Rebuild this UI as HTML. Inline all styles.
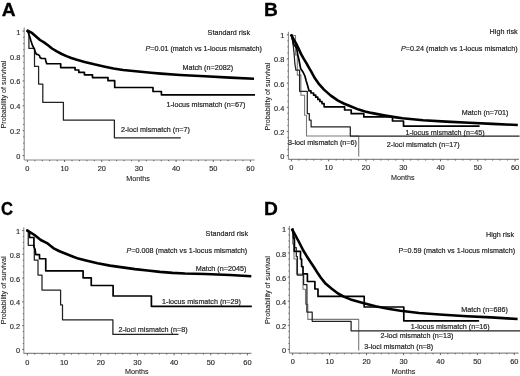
<!DOCTYPE html>
<html><head><meta charset="utf-8"><style>
html,body{margin:0;padding:0;background:#fff;}
svg{display:block;filter:blur(0.3px);}
.t{font-family:"Liberation Sans", sans-serif;font-size:7.2px;fill:#222;stroke:#222;stroke-width:0.1px;}
.ann{font-family:"Liberation Sans", sans-serif;font-size:7.8px;fill:#222;stroke:#222;stroke-width:0.2px;}
.tl{font-family:"Liberation Sans", sans-serif;font-size:7.4px;letter-spacing:0.0px;fill:#2a2a2a;stroke:#2a2a2a;stroke-width:0.15px;}
.big{font-family:"Liberation Sans", sans-serif;font-size:19.2px;font-weight:bold;fill:#000;stroke:#000;stroke-width:0.3px;}
</style></head><body>
<svg width="520" height="376" viewBox="0 0 520 376">
<rect width="520" height="376" fill="#fff"/>
<line x1="24.2" y1="27.6" x2="24.2" y2="160" stroke="#8a8a8a" stroke-width="1.1"/>
<line x1="24.2" y1="160" x2="254.6" y2="160" stroke="#8a8a8a" stroke-width="1.1"/>
<path d="M22.6 155.6H24.2M23.2 149.38H24.2M23.2 143.15H24.2M23.2 136.92H24.2M22.6 130.7H24.2M23.2 124.47H24.2M23.2 118.25H24.2M23.2 112.02H24.2M22.6 105.8H24.2M23.2 99.57H24.2M23.2 93.35H24.2M23.2 87.12H24.2M22.6 80.9H24.2M23.2 74.67H24.2M23.2 68.45H24.2M23.2 62.22H24.2M22.6 56H24.2M23.2 49.77H24.2M23.2 43.55H24.2M23.2 37.32H24.2M22.6 31.1H24.2M27.4 160V162M34.83 160V161.2M42.27 160V161.2M49.7 160V161.2M57.14 160V161.2M64.57 160V162M72 160V161.2M79.44 160V161.2M86.87 160V161.2M94.31 160V161.2M101.74 160V162M109.17 160V161.2M116.61 160V161.2M124.04 160V161.2M131.48 160V161.2M138.91 160V162M146.34 160V161.2M153.78 160V161.2M161.21 160V161.2M168.65 160V161.2M176.08 160V162M183.51 160V161.2M190.95 160V161.2M198.38 160V161.2M205.82 160V161.2M213.25 160V162M220.68 160V161.2M228.12 160V161.2M235.55 160V161.2M242.99 160V161.2M250.42 160V162" stroke="#555" stroke-width="0.9" fill="none"/>
<text transform="translate(20.4,159.1) scale(1.0,1)" text-anchor="end" class="tl">0</text>
<text transform="translate(20.4,134.2) scale(1.0,1)" text-anchor="end" class="tl">0.2</text>
<text transform="translate(20.4,109.3) scale(1.0,1)" text-anchor="end" class="tl">0.4</text>
<text transform="translate(20.4,84.4) scale(1.0,1)" text-anchor="end" class="tl">0.6</text>
<text transform="translate(20.4,59.5) scale(1.0,1)" text-anchor="end" class="tl">0.8</text>
<text transform="translate(20.4,34.6) scale(1.0,1)" text-anchor="end" class="tl">1</text>
<text transform="translate(27.4,170.5) scale(1.0,1)" text-anchor="middle" class="tl">0</text>
<text transform="translate(64.57,170.5) scale(1.0,1)" text-anchor="middle" class="tl">10</text>
<text transform="translate(101.74,170.5) scale(1.0,1)" text-anchor="middle" class="tl">20</text>
<text transform="translate(138.91,170.5) scale(1.0,1)" text-anchor="middle" class="tl">30</text>
<text transform="translate(176.08,170.5) scale(1.0,1)" text-anchor="middle" class="tl">40</text>
<text transform="translate(213.25,170.5) scale(1.0,1)" text-anchor="middle" class="tl">50</text>
<text transform="translate(250.42,170.5) scale(1.0,1)" text-anchor="middle" class="tl">60</text>
<text x="1.8" y="16.1" text-anchor="start" class="big" >A</text>
<polyline points="26.8,30.4 28.9,30.4 28.9,48.4 34.5,48.4 34.5,66.4 38.6,66.4 38.6,84 42.8,84 42.8,102.4 63.4,102.4 63.4,120.2 114.4,120.2 114.4,137.8 180.8,137.8" fill="none" stroke="#222" stroke-width="1.25" stroke-linejoin="round" stroke-linecap="butt" />
<polyline points="26.8,30.4 28,32 29.5,36 31,41 32.3,45 34.25,48.8 35.2,51.7 36.2,54.1 38.1,54.6 39.5,55.6 40,57.5 41.5,58.5 45.3,58.5 45.8,60.9 46.75,63.75 60.7,63.75 60.7,67.6 75.1,67.6 75.1,70 78.8,70 78.8,72.3 84.4,72.3 84.4,74.8 92.5,74.8 92.5,77.6 108,77.6 108,80.7 114.7,80.7 114.7,87.5 153,87.5 153,91.5 161.4,91.5 161.4,94.8 255,94.8" fill="none" stroke="#000" stroke-width="1.7" stroke-linejoin="round" stroke-linecap="butt" />
<polyline points="26.6,30.3 29,31.5 32,32.9 36,36.4 40,40 44,42.4 48,45.3 52,48.5 56.8,51.3 61.7,54 66.5,56.1 71.3,58 76,59.6 84.6,61.9 94.2,64.3 103.8,66.4 113.5,68.5 123.1,70 130.7,70.8 140.8,71.8 150.9,72.7 161,73.6 180,75 205,76.3 230,77.6 254,78.7" fill="none" stroke="#000" stroke-width="2.6" stroke-linejoin="round" stroke-linecap="butt" />
<text transform="translate(207.6,34.5) scale(0.9231,1)" text-anchor="start" class="ann" >Standard risk</text>
<text transform="translate(145.4,50.5) scale(0.9231,1)" text-anchor="start" class="ann" ><tspan font-style="italic">P</tspan>=0.01 (match vs 1-locus mismatch)</text>
<text transform="translate(182.5,70.4) scale(0.9231,1)" text-anchor="start" class="ann" >Match (n=2082)</text>
<text transform="translate(166.4,106.6) scale(0.9231,1)" text-anchor="start" class="ann" >1-locus mismatch (n=67)</text>
<text transform="translate(120.9,132.3) scale(0.9231,1)" text-anchor="start" class="ann" >2-loci mismatch (n=7)</text>
<text x="138" y="180.5" text-anchor="middle" class="t" >Months</text>
<text transform="translate(5.7,94.5) rotate(-90)" text-anchor="middle" class="t" fill="#222">Probability of survival</text>
<line x1="288.4" y1="31.8" x2="288.4" y2="159.4" stroke="#8a8a8a" stroke-width="1.1"/>
<line x1="288.4" y1="159.4" x2="519" y2="159.4" stroke="#8a8a8a" stroke-width="1.1"/>
<path d="M286.8 155.6H288.4M287.4 149.56H288.4M287.4 143.52H288.4M287.4 137.48H288.4M286.8 131.44H288.4M287.4 125.4H288.4M287.4 119.36H288.4M287.4 113.32H288.4M286.8 107.28H288.4M287.4 101.24H288.4M287.4 95.2H288.4M287.4 89.16H288.4M286.8 83.12H288.4M287.4 77.08H288.4M287.4 71.04H288.4M287.4 65H288.4M286.8 58.96H288.4M287.4 52.92H288.4M287.4 46.88H288.4M287.4 40.84H288.4M286.8 34.8H288.4M291.4 159.4V161.4M298.86 159.4V160.6M306.31 159.4V160.6M313.77 159.4V160.6M321.22 159.4V160.6M328.68 159.4V161.4M336.14 159.4V160.6M343.59 159.4V160.6M351.05 159.4V160.6M358.5 159.4V160.6M365.96 159.4V161.4M373.42 159.4V160.6M380.87 159.4V160.6M388.33 159.4V160.6M395.78 159.4V160.6M403.24 159.4V161.4M410.7 159.4V160.6M418.15 159.4V160.6M425.61 159.4V160.6M433.06 159.4V160.6M440.52 159.4V161.4M447.98 159.4V160.6M455.43 159.4V160.6M462.89 159.4V160.6M470.34 159.4V160.6M477.8 159.4V161.4M485.26 159.4V160.6M492.71 159.4V160.6M500.17 159.4V160.6M507.62 159.4V160.6M515.08 159.4V161.4" stroke="#555" stroke-width="0.9" fill="none"/>
<text transform="translate(284.3,159.1) scale(1.0,1)" text-anchor="end" class="tl">0</text>
<text transform="translate(284.3,134.94) scale(1.0,1)" text-anchor="end" class="tl">0.2</text>
<text transform="translate(284.3,110.78) scale(1.0,1)" text-anchor="end" class="tl">0.4</text>
<text transform="translate(284.3,86.62) scale(1.0,1)" text-anchor="end" class="tl">0.6</text>
<text transform="translate(284.3,62.46) scale(1.0,1)" text-anchor="end" class="tl">0.8</text>
<text transform="translate(284.3,38.3) scale(1.0,1)" text-anchor="end" class="tl">1</text>
<text transform="translate(291.4,170.4) scale(1.0,1)" text-anchor="middle" class="tl">0</text>
<text transform="translate(328.68,170.4) scale(1.0,1)" text-anchor="middle" class="tl">10</text>
<text transform="translate(365.96,170.4) scale(1.0,1)" text-anchor="middle" class="tl">20</text>
<text transform="translate(403.24,170.4) scale(1.0,1)" text-anchor="middle" class="tl">30</text>
<text transform="translate(440.52,170.4) scale(1.0,1)" text-anchor="middle" class="tl">40</text>
<text transform="translate(477.8,170.4) scale(1.0,1)" text-anchor="middle" class="tl">50</text>
<text transform="translate(515.08,170.4) scale(1.0,1)" text-anchor="middle" class="tl">60</text>
<text x="264.1" y="16.1" text-anchor="start" class="big" >B</text>
<polyline points="291.2,34.6 293.5,35.2 295.5,35.6 295.5,54.9 297.3,54.9 297.3,75.1 300.9,75.1 300.9,95.2 304.6,95.2 304.6,115.3 306.5,115.3 306.5,136 358.7,136 358.7,156.4" fill="none" stroke="#7a7a7a" stroke-width="1.1" stroke-linejoin="round" stroke-linecap="butt" />
<polyline points="291.2,34.6 292.5,40 293.5,48 294.3,56 294.8,63.2 295.3,66.4 295.9,70.1 299.6,70.1 299.6,91.3 307.3,91.3 307.3,113.6 309.3,113.6 309.3,120 311.1,120 311.1,126.9 350.3,126.9 350.3,136 519.5,136" fill="none" stroke="#222" stroke-width="1.25" stroke-linejoin="round" stroke-linecap="butt" />
<polyline points="291.2,34.6 293.8,44.5 296.7,48.3 297.6,54.1 298.6,58 300.6,68.5 302.8,71.7 304.9,76 306,80.2 307.6,85.5 309.1,90.9 309.1,90.9 311,90.9 311,93 313.6,93 313.6,95.1 315.7,95.1 315.7,97.2 317.8,97.2 317.8,99.4 319.9,99.4 319.9,101.5 322,101.5 322,103.6 324.1,103.6 324.1,106.8 344.6,106.8 344.6,110 351.2,110 351.2,113.7 363.8,113.7 363.8,116.9 392.5,116.9 392.5,121 403.5,121 403.5,126.1 479.6,126.1" fill="none" stroke="#000" stroke-width="1.7" stroke-linejoin="round" stroke-linecap="butt" />
<polyline points="290.9,34.4 293.8,39.7 296.6,44.5 298.9,49.3 301.1,54.1 303.8,58.9 306.7,63.7 308.9,67.6 311.4,71.8 314.4,77.5 318.6,83.6 324,89.6 330.5,95.4 338,100.6 344.25,103.75 350.5,106.3 358.75,109.6 365,111.4 371.25,112.9 377.5,114.1 383.75,115.3 390,116.4 396.25,117.4 402.5,118.3 423.1,120.3 446.2,121.6 469.3,122.7 492.4,123.9 517.8,125" fill="none" stroke="#000" stroke-width="2.6" stroke-linejoin="round" stroke-linecap="butt" />
<text transform="translate(489.6,34.3) scale(0.9231,1)" text-anchor="start" class="ann" >High risk</text>
<text transform="translate(401,51.3) scale(0.9231,1)" text-anchor="start" class="ann" ><tspan font-style="italic">P</tspan>=0.24 (match vs 1-locus mismatch)</text>
<text transform="translate(461.8,115.3) scale(0.9231,1)" text-anchor="start" class="ann" >Match (n=701)</text>
<text transform="translate(405.6,135.2) scale(0.9231,1)" text-anchor="start" class="ann" >1-locus mismatch (n=45)</text>
<text transform="translate(386.8,147.3) scale(0.9231,1)" text-anchor="start" class="ann" >2-loci mismatch (n=17)</text>
<text transform="translate(288,145.2) scale(0.9231,1)" text-anchor="start" class="ann" >3-loci mismatch (n=6)</text>
<text x="402.7" y="180.2" text-anchor="middle" class="t" >Months</text>
<text transform="translate(269.8,96.6) rotate(-90)" text-anchor="middle" class="t" fill="#222">Probability of survival</text>
<line x1="23.8" y1="227.3" x2="23.8" y2="353.4" stroke="#8a8a8a" stroke-width="1.1"/>
<line x1="23.8" y1="353.4" x2="251.4" y2="353.4" stroke="#8a8a8a" stroke-width="1.1"/>
<path d="M22.2 349.4H23.8M22.8 343.45H23.8M22.8 337.51H23.8M22.8 331.56H23.8M22.2 325.62H23.8M22.8 319.67H23.8M22.8 313.73H23.8M22.8 307.78H23.8M22.2 301.84H23.8M22.8 295.89H23.8M22.8 289.95H23.8M22.8 284H23.8M22.2 278.06H23.8M22.8 272.12H23.8M22.8 266.17H23.8M22.8 260.23H23.8M22.2 254.28H23.8M22.8 248.33H23.8M22.8 242.39H23.8M22.8 236.44H23.8M22.2 230.5H23.8M27.4 353.4V355.4M34.73 353.4V354.6M42.07 353.4V354.6M49.4 353.4V354.6M56.74 353.4V354.6M64.07 353.4V355.4M71.4 353.4V354.6M78.74 353.4V354.6M86.07 353.4V354.6M93.41 353.4V354.6M100.74 353.4V355.4M108.07 353.4V354.6M115.41 353.4V354.6M122.74 353.4V354.6M130.08 353.4V354.6M137.41 353.4V355.4M144.74 353.4V354.6M152.08 353.4V354.6M159.41 353.4V354.6M166.75 353.4V354.6M174.08 353.4V355.4M181.41 353.4V354.6M188.75 353.4V354.6M196.08 353.4V354.6M203.42 353.4V354.6M210.75 353.4V355.4M218.08 353.4V354.6M225.42 353.4V354.6M232.75 353.4V354.6M240.09 353.4V354.6M247.42 353.4V355.4" stroke="#555" stroke-width="0.9" fill="none"/>
<text transform="translate(20,352.9) scale(1.0,1)" text-anchor="end" class="tl">0</text>
<text transform="translate(20,329.12) scale(1.0,1)" text-anchor="end" class="tl">0.2</text>
<text transform="translate(20,305.34) scale(1.0,1)" text-anchor="end" class="tl">0.4</text>
<text transform="translate(20,281.56) scale(1.0,1)" text-anchor="end" class="tl">0.6</text>
<text transform="translate(20,257.78) scale(1.0,1)" text-anchor="end" class="tl">0.8</text>
<text transform="translate(20,234) scale(1.0,1)" text-anchor="end" class="tl">1</text>
<text transform="translate(27.4,364.6) scale(1.0,1)" text-anchor="middle" class="tl">0</text>
<text transform="translate(64.07,364.6) scale(1.0,1)" text-anchor="middle" class="tl">10</text>
<text transform="translate(100.74,364.6) scale(1.0,1)" text-anchor="middle" class="tl">20</text>
<text transform="translate(137.41,364.6) scale(1.0,1)" text-anchor="middle" class="tl">30</text>
<text transform="translate(174.08,364.6) scale(1.0,1)" text-anchor="middle" class="tl">40</text>
<text transform="translate(210.75,364.6) scale(1.0,1)" text-anchor="middle" class="tl">50</text>
<text transform="translate(247.42,364.6) scale(1.0,1)" text-anchor="middle" class="tl">60</text>
<text x="0" y="214.8" class="big" transform="translate(0.95,0) scale(0.87,1)">C</text>
<polyline points="26.4,230.2 28.25,230.2 28.25,245.3 34.3,245.3 34.3,260.2 38,260.2 38,275.1 42,275.1 42,290 60.6,290 60.6,304.9 62.5,304.9 62.5,319.8 112.9,319.8 112.9,334.4 178.5,334.4" fill="none" stroke="#222" stroke-width="1.25" stroke-linejoin="round" stroke-linecap="butt" />
<polyline points="26.4,230.2 29.5,231.9 29.5,237.5 33.9,237.5 33.9,246.9 35.1,249.4 35.75,254.6 39.5,254.6 39.5,258.75 45.75,258.75 45.75,270.8 83.1,270.8 83.1,277.8 91.25,277.8 91.25,285.5 113.1,285.5 113.1,296 151.4,296 151.4,306.3 251.8,306.3" fill="none" stroke="#000" stroke-width="1.7" stroke-linejoin="round" stroke-linecap="butt" />
<polyline points="26.4,230 29.5,231.9 34.5,235 40.75,240 47,243.1 53.25,248.1 59.5,251.25 65.75,253.75 72,256.25 78.25,258.6 85,260.3 97.5,263.25 110,265.6 122.5,267.4 135,269.1 147.5,270.5 160,271.9 172.5,272.9 185,273.5 205,274 230,275 251.3,276.2" fill="none" stroke="#000" stroke-width="2.6" stroke-linejoin="round" stroke-linecap="butt" />
<text transform="translate(205.6,235.8) scale(0.9231,1)" text-anchor="start" class="ann" >Standard risk</text>
<text transform="translate(126.6,252.7) scale(0.9231,1)" text-anchor="start" class="ann" ><tspan font-style="italic">P</tspan>=0.008 (match vs 1-locus mismatch)</text>
<text transform="translate(195.7,270.5) scale(0.9231,1)" text-anchor="start" class="ann" >Match (n=2045)</text>
<text transform="translate(162,303.6) scale(0.9231,1)" text-anchor="start" class="ann" >1-locus mismatch (n=29)</text>
<text transform="translate(118.6,332) scale(0.9231,1)" text-anchor="start" class="ann" >2-loci mismatch (n=8)</text>
<text x="136.7" y="373.9" text-anchor="middle" class="t" >Months</text>
<text transform="translate(5.7,290.4) rotate(-90)" text-anchor="middle" class="t" fill="#222">Probability of survival</text>
<line x1="289.4" y1="226" x2="289.4" y2="353.1" stroke="#8a8a8a" stroke-width="1.1"/>
<line x1="289.4" y1="353.1" x2="518.6" y2="353.1" stroke="#8a8a8a" stroke-width="1.1"/>
<path d="M287.8 349.4H289.4M288.4 343.38H289.4M288.4 337.35H289.4M288.4 331.32H289.4M287.8 325.3H289.4M288.4 319.27H289.4M288.4 313.25H289.4M288.4 307.22H289.4M287.8 301.2H289.4M288.4 295.18H289.4M288.4 289.15H289.4M288.4 283.12H289.4M287.8 277.1H289.4M288.4 271.07H289.4M288.4 265.05H289.4M288.4 259.02H289.4M287.8 253H289.4M288.4 246.97H289.4M288.4 240.95H289.4M288.4 234.93H289.4M287.8 228.9H289.4M292.7 353.1V355.1M300.09 353.1V354.3M307.47 353.1V354.3M314.86 353.1V354.3M322.24 353.1V354.3M329.63 353.1V355.1M337.02 353.1V354.3M344.4 353.1V354.3M351.79 353.1V354.3M359.17 353.1V354.3M366.56 353.1V355.1M373.95 353.1V354.3M381.33 353.1V354.3M388.72 353.1V354.3M396.1 353.1V354.3M403.49 353.1V355.1M410.88 353.1V354.3M418.26 353.1V354.3M425.65 353.1V354.3M433.03 353.1V354.3M440.42 353.1V355.1M447.81 353.1V354.3M455.19 353.1V354.3M462.58 353.1V354.3M469.96 353.1V354.3M477.35 353.1V355.1M484.74 353.1V354.3M492.12 353.1V354.3M499.51 353.1V354.3M506.89 353.1V354.3M514.28 353.1V355.1" stroke="#555" stroke-width="0.9" fill="none"/>
<text transform="translate(286.2,352.9) scale(1.0,1)" text-anchor="end" class="tl">0</text>
<text transform="translate(286.2,328.8) scale(1.0,1)" text-anchor="end" class="tl">0.2</text>
<text transform="translate(286.2,304.7) scale(1.0,1)" text-anchor="end" class="tl">0.4</text>
<text transform="translate(286.2,280.6) scale(1.0,1)" text-anchor="end" class="tl">0.6</text>
<text transform="translate(286.2,256.5) scale(1.0,1)" text-anchor="end" class="tl">0.8</text>
<text transform="translate(286.2,232.4) scale(1.0,1)" text-anchor="end" class="tl">1</text>
<text transform="translate(292.7,364.4) scale(1.0,1)" text-anchor="middle" class="tl">0</text>
<text transform="translate(329.63,364.4) scale(1.0,1)" text-anchor="middle" class="tl">10</text>
<text transform="translate(366.56,364.4) scale(1.0,1)" text-anchor="middle" class="tl">20</text>
<text transform="translate(403.49,364.4) scale(1.0,1)" text-anchor="middle" class="tl">30</text>
<text transform="translate(440.42,364.4) scale(1.0,1)" text-anchor="middle" class="tl">40</text>
<text transform="translate(477.35,364.4) scale(1.0,1)" text-anchor="middle" class="tl">50</text>
<text transform="translate(514.28,364.4) scale(1.0,1)" text-anchor="middle" class="tl">60</text>
<text x="263.9" y="215.4" text-anchor="start" class="big" >D</text>
<polyline points="291.8,228.9 292.6,228.9 292.6,244 294,244 294,259 296.5,259 296.5,274.1 303,274.1 303,289.2 305.5,289.2 305.5,304.2 307.8,304.2 307.8,319.4 358.7,319.4 358.7,350.5" fill="none" stroke="#7a7a7a" stroke-width="1.1" stroke-linejoin="round" stroke-linecap="butt" />
<polyline points="291.8,228.9 293.3,228.9 293.3,238.2 294.6,238.2 294.6,247.5 296.3,247.5 296.3,256.7 297.4,256.7 297.4,275.2 303.6,275.2 303.6,284.5 306.9,284.5 306.9,312 312.2,312 312.2,321.3 351.1,321.3 351.1,330.8 520,330.8" fill="none" stroke="#222" stroke-width="1.25" stroke-linejoin="round" stroke-linecap="butt" />
<polyline points="291.8,228.9 293,232 294.25,240 294.25,251.3 300.5,251.3 300.5,259 301.6,259 301.6,266.6 303,266.6 303,273.9 307.4,273.9 307.4,281.5 314.9,281.5 314.9,289 318,289 318,296.4 364.2,296.4 364.2,307 403.8,307 403.8,320.8 479.1,320.8" fill="none" stroke="#000" stroke-width="1.7" stroke-linejoin="round" stroke-linecap="butt" />
<polyline points="291.75,228.75 293.5,231.8 295.5,235.5 299.25,242.5 303,250 306.75,256.2 310.5,262 314.5,268 318,273.6 320.5,277.3 325.5,283.6 331.75,288.75 338,293.5 344.25,296.9 350.5,299.4 363,303 375.5,306.2 388,308.7 400.5,310.8 419,313 443.1,314.7 467.1,316.2 491.2,317.4 517.6,319" fill="none" stroke="#000" stroke-width="2.6" stroke-linejoin="round" stroke-linecap="butt" />
<text transform="translate(486,236.6) scale(0.9231,1)" text-anchor="start" class="ann" >High risk</text>
<text transform="translate(398.5,253.3) scale(0.9231,1)" text-anchor="start" class="ann" >P=0.59 (match vs 1-locus mismatch)</text>
<text transform="translate(461.2,312.3) scale(0.9231,1)" text-anchor="start" class="ann" >Match (n=686)</text>
<text transform="translate(410.8,328.7) scale(0.9231,1)" text-anchor="start" class="ann" >1-locus mismatch (n=16)</text>
<text transform="translate(380.5,338.1) scale(0.9231,1)" text-anchor="start" class="ann" >2-loci mismatch (n=13)</text>
<text transform="translate(364.3,348.8) scale(0.9231,1)" text-anchor="start" class="ann" >3-loci mismatch (n=8)</text>
<text x="403.6" y="373.8" text-anchor="middle" class="t" >Months</text>
<text transform="translate(269.8,290) rotate(-90)" text-anchor="middle" class="t" fill="#222">Probability of survival</text>
</svg>
</body></html>
